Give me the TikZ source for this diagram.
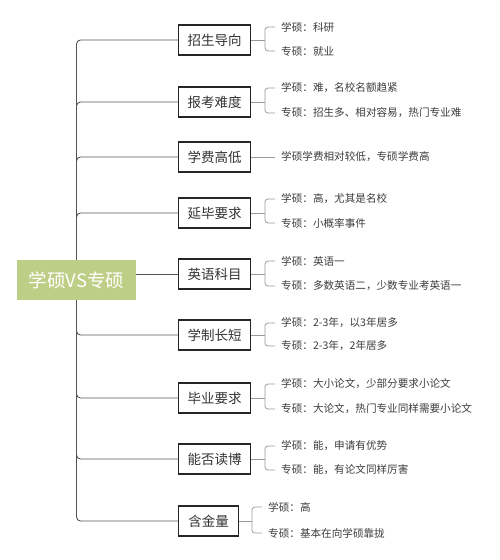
\documentclass[tikz,border=0pt]{standalone}
\usepackage{fontspec}
\setmainfont{Noto Sans CJK SC}
\definecolor{rootgreen}{HTML}{BDCF87}
\definecolor{spine}{HTML}{555555}
\definecolor{leafline}{HTML}{9A9A9A}
\definecolor{leaftext}{HTML}{3C3C3C}
\begin{document}
\begin{tikzpicture}[x=1pt,y=-1pt,
  cat/.style={draw=black!85,line width=1.2pt,minimum height=30pt,minimum width=72pt,inner xsep=8pt,font=\fontsize{13.5}{13.5}\selectfont,text=black!80,anchor=west},
  leaf/.style={anchor=west,inner xsep=6pt,inner ysep=0pt,font=\fontsize{10.6}{10.6}\selectfont,text=leaftext},
  conn/.style={draw=spine,line width=0.9pt,rounded corners=4pt},
  lconn/.style={draw=leafline,line width=0.8pt,rounded corners=3pt}]
\useasboundingbox (0,0) rectangle (500,560);
% root
\node[fill=rootgreen,text=white,minimum width=119pt,minimum height=40pt,inner sep=0pt,font=\fontsize{18.5}{18.5}\selectfont] (root) at (76.5,280) {学硕VS专硕};
% categories
\node[cat] (c1) at (178,40) {招生导向};
\node[cat] (c2) at (178,102) {报考难度};
\node[cat] (c3) at (178,157) {学费高低};
\node[cat] (c4) at (178,213) {延毕要求};
\node[cat] (c5) at (178,274) {英语科目};
\node[cat] (c6) at (178,335) {学制长短};
\node[cat] (c7) at (178,398) {毕业要求};
\node[cat] (c8) at (178,459) {能否读博};
\node[cat,minimum width=60pt] (c9) at (178,521) {含金量};
% branches
\foreach \c in {c1,c2,c3,c4} {\draw[conn] (root.north) |- (\c.west);}
\foreach \c in {c6,c7,c8,c9} {\draw[conn] (root.south) |- (\c.west);}
\draw[conn] (root.east |- c5.west) -- (c5.west);
% leaves
\node[leaf] (l1a) at (275,27) {学硕：科研};
\node[leaf] (l1b) at (275,51) {专硕：就业};
\node[leaf] (l2a) at (275,88) {学硕：难，名校名额趋紧};
\node[leaf] (l2b) at (275,113) {专硕：招生多、相对容易，热门专业难};
\node[leaf] (l3a) at (275,157) {学硕学费相对较低，专硕学费高};
\node[leaf] (l4a) at (275,199) {学硕：高，尤其是名校};
\node[leaf] (l4b) at (275,223) {专硕：小概率事件};
\node[leaf] (l5a) at (275,261) {学硕：英语一};
\node[leaf] (l5b) at (275,286) {专硕：多数英语二，少数专业考英语一};
\node[leaf] (l6a) at (275,323) {学硕：2-3年，以3年居多};
\node[leaf] (l6b) at (275,346) {专硕：2-3年，2年居多};
\node[leaf] (l7a) at (275,384) {学硕：大小论文，少部分要求小论文};
\node[leaf] (l7b) at (275,409) {专硕：大论文，热门专业同样需要小论文};
\node[leaf] (l8a) at (275,446) {学硕：能，申请有优势};
\node[leaf] (l8b) at (275,470) {专硕：能，有论文同样厉害};
\node[leaf] (l9a) at (262,507) {学硕：高};
\node[leaf] (l9b) at (262,533) {专硕：基本在向学硕靠拢};
% leaf connectors
\coordinate (j1) at (265,40);
\coordinate (j2) at (265,102);
\coordinate (j4) at (265,213);
\coordinate (j5) at (265,274);
\coordinate (j6) at (265,335);
\coordinate (j7) at (265,398);
\coordinate (j8) at (265,459);
\coordinate (j9) at (252,521);
\foreach \i in {1,2,4,5,6,7,8,9} {
  \draw[lconn] (c\i.east) -- (j\i);
  \draw[lconn] (l\i a.west) -| (j\i) |- (l\i b.west);
}
\draw[lconn] (c3.east) -- (l3a.west);
\end{tikzpicture}
\end{document}
